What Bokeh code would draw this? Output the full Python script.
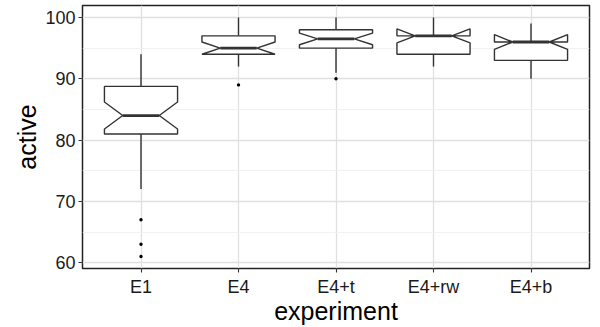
from bokeh.plotting import figure
from bokeh.models import Range1d, FixedTicker
from bokeh.embed import file_html
from bokeh.resources import INLINE

# Five-number summaries (plus notch limits) of "active" per experiment
experiments = ["E1", "E4", "E4+t", "E4+rw", "E4+b"]
q1 = [81.0, 94.0, 95.0, 94.0, 93.0]
median = [84.0, 95.0, 96.5, 97.0, 96.0]
q3 = [88.75, 97.0, 98.0, 97.0, 96.0]
whisker_lo = [72.0, 92.0, 91.0, 92.0, 90.0]
whisker_hi = [94.0, 100.0, 100.0, 100.0, 99.0]
notch_lo = [81.8, 94.0, 95.55, 95.85, 94.8]
notch_hi = [86.2, 96.0, 97.45, 98.15, 97.2]

# Points beyond the whiskers
outlier_exp = ["E1", "E1", "E1", "E4", "E4+t"]
outlier_val = [67, 63, 61, 89, 90]

y_ticks = [60, 70, 80, 90, 100]
y_minor = [65, 75, 85, 95]

FONT = "Liberation Sans"
INK = "#333333"
BOX_W = 0.75          # box width in category units
NOTCH_W = 0.5         # notch width relative to box width

pos = {name: i + 1 for i, name in enumerate(experiments)}
xs = [pos[e] for e in experiments]

p = figure(
    width=600, height=327,
    x_range=Range1d(0.4, 5.6), y_range=Range1d(59.05, 101.95),
    output_backend="svg", toolbar_location=None,
    min_border_left=82, min_border_right=11,
    min_border_top=5, min_border_bottom=58,
)
p.background_fill_color = "white"
p.border_fill_color = "white"
p.outline_line_color = "#222222"
p.outline_line_width = 1.5

# whiskers (drawn first so the boxes sit on top)
p.segment(x0=xs, y0=q3, x1=xs, y1=whisker_hi, line_color=INK, line_width=1.4)
p.segment(x0=xs, y0=q1, x1=xs, y1=whisker_lo, line_color=INK, line_width=1.4)

# notched boxes
poly_x, poly_y = [], []
for x, a, m, b, nl, nh in zip(xs, q1, median, q3, notch_lo, notch_hi):
    xmin, xmax = x - BOX_W / 2, x + BOX_W / 2
    nxmin, nxmax = x - BOX_W * NOTCH_W / 2, x + BOX_W * NOTCH_W / 2
    poly_x.append([xmin, xmin, nxmin, xmin, xmin, xmax, xmax, nxmax, xmax, xmax])
    poly_y.append([b, nh, m, nl, a, a, nl, m, nh, b])
p.patches(poly_x, poly_y, fill_color="white", line_color=INK, line_width=1.4)

# medians
half_notch = BOX_W * NOTCH_W / 2
p.segment(x0=[x - half_notch for x in xs], y0=median,
          x1=[x + half_notch for x in xs], y1=median,
          line_color=INK, line_width=2.8)

# outliers
p.scatter([pos[e] for e in outlier_exp], outlier_val, size=3.4,
          color="black", line_width=0)

# axes
p.xaxis.ticker = FixedTicker(ticks=xs)
p.xaxis.major_label_overrides = {x: name for x, name in zip(xs, experiments)}
p.yaxis.ticker = FixedTicker(ticks=y_ticks, minor_ticks=y_minor)

for ax in (p.xaxis[0], p.yaxis[0]):
    ax.axis_line_color = None
    ax.major_tick_line_color = INK
    ax.major_tick_line_width = 1.1
    ax.major_tick_out = 4
    ax.major_tick_in = 0
    ax.minor_tick_out = 0
    ax.minor_tick_in = 0
    ax.major_label_text_font = FONT
    ax.major_label_text_font_size = "18px"
    ax.major_label_text_color = "#1a1a1a"
    ax.axis_label_text_font = FONT
    ax.axis_label_text_font_size = "25px"
    ax.axis_label_text_font_style = "normal"
    ax.axis_label_text_color = "black"

p.xaxis.axis_label = "experiment"
p.yaxis.axis_label = "active"
p.xaxis.major_label_standoff = 4
p.xaxis.axis_label_standoff = -3
p.yaxis.major_label_standoff = 3
p.yaxis.axis_label_standoff = 1

# grid
p.xgrid.grid_line_color = "#e0e0e0"
p.xgrid.grid_line_width = 1.3
p.ygrid.grid_line_color = "#e0e0e0"
p.ygrid.grid_line_width = 1.3
p.ygrid.minor_grid_line_color = "#efefef"
p.ygrid.minor_grid_line_width = 0.8

open("out.html", "w").write(file_html(p, INLINE))
